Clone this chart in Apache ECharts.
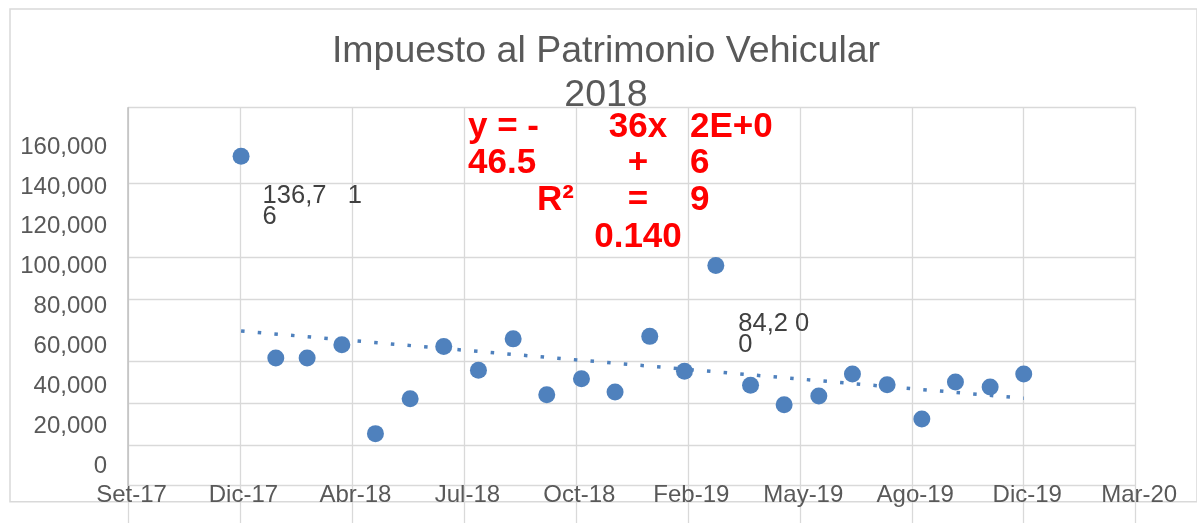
<!DOCTYPE html>
<html><head><meta charset="utf-8">
<script src="https://cdn.jsdelivr.net/npm/echarts@6/dist/echarts.min.js"></script>
<style>html,body{margin:0;padding:0;background:#fff;}#c{width:1197px;height:523px;}</style>
</head><body><div id="c"></div>
<script>
// ---- data ----
const months = ['2018-01','2018-02','2018-03','2018-04','2018-05','2018-06','2018-07','2018-08','2018-09','2018-10','2018-11','2018-12',
                '2019-01','2019-02','2019-03','2019-04','2019-05','2019-06','2019-07','2019-08','2019-09','2019-10','2019-11','2019-12'];
const values = [136716, 39800, 39800, 46200, 3500, 20300, 45300, 33900, 49000, 22200, 29900, 23500,
                50200, 33400, 84200, 26700, 17400, 21600, 32100, 27000, 10500, 28300, 25900, 32100];
const xTickLabels = ['Set-17','Dic-17','Abr-18','Jul-18','Oct-18','Feb-19','May-19','Ago-19','Dic-19','Mar-20'];
const xMin = 43000, xMax = 43900, xStep = 100;            // Excel date serials
const yTickValues = [0, 20000, 40000, 60000, 80000, 100000, 120000, 140000, 160000];
const gridLineValues = [160000, 123800, 88200, 68200, 38400, 18200, -2000, -21500];
const labelledMonths = ['2018-01', '2019-03'];
const titleText = 'Impuesto al Patrimonio Vehicular\n2018';

// ---- helpers ----
function toSerial(ym) {
  const p = ym.split('-').map(Number);
  return Math.round((Date.UTC(p[0], p[1] - 1, 1) - Date.UTC(1899, 11, 30)) / 86400000);
}
function fmt(v) { return String(Math.round(v)).replace(/\B(?=(\d{3})+(?!\d))/g, ','); }

const xs = months.map(toSerial);
// least squares trend (as Excel does)
const n = xs.length;
let sx = 0, sy = 0, sxx = 0, sxy = 0;
for (let i = 0; i < n; i++) { sx += xs[i]; sy += values[i]; sxx += xs[i] * xs[i]; sxy += xs[i] * values[i]; }
const slope = (n * sxy - sx * sy) / (n * sxx - sx * sx);
const icpt = (sy - slope * sx) / n;
const trendData = [[xs[0], icpt + slope * xs[0]], [xs[n - 1], icpt + slope * xs[n - 1]]];

const labelCfg = {
  '2018-01': { position: [30, 38], gap: '   ' },
  '2019-03': { position: [31, 56], gap: ' ' }
};

const scatterData = months.map((m, i) => {
  const item = { value: [xs[i], values[i]] };
  if (labelledMonths.indexOf(m) >= 0) {
    const c = labelCfg[m];
    item.label = {
      show: true, position: c.position, align: 'left', verticalAlign: 'top',
      fontSize: 25.5, lineHeight: 21, color: '#404040',
      formatter: function (p) {
        const s = fmt(p.value[1]);
        return s.slice(0, -2) + c.gap + s.slice(-2, -1) + '\n' + s.slice(-1);
      }
    };
  }
  return item;
});

const gridColor = '#d9d9d9';
const eqFont = 'bold 35px "Liberation Sans", Arial, sans-serif';

const option = {
  backgroundColor: '#fff',
  animation: false,
  textStyle: { fontFamily: '"Liberation Sans", Arial, sans-serif' },
  title: {
    text: titleText, left: 606, top: 30, textAlign: 'center', padding: 0, z: -1,
    textStyle: { fontSize: 37.5, fontWeight: 'normal', color: '#595959', lineHeight: 44 }
  },
  grid: [
    { left: 128, right: 61.3, top: 107.7, bottom: 37.3, show: true, backgroundColor: '#fff', borderWidth: 0 },
    { left: 115, right: 61.3, top: 147, bottom: 57, show: false },
    { left: 128, right: 61.3, top: 485.7, bottom: 0, show: false },
    { left: 10, top: 9, right: -5, bottom: 21.3, show: true, backgroundColor: 'transparent', borderColor: gridColor, borderWidth: 1.5 }
  ],
  xAxis: [
    { gridIndex: 0, type: 'value', min: xMin, max: xMax, interval: xStep,
      axisLine: { show: false }, axisTick: { show: false },
      splitLine: { show: true, lineStyle: { color: gridColor, width: 1.3 } },
      axisLabel: { fontSize: 24, color: '#595959', margin: -2, padding: [0, 0, 0, 7],
        formatter: v => xTickLabels[Math.round((v - xMin) / xStep)] || '' } },
    { gridIndex: 1, type: 'value', show: false, min: xMin, max: xMax },
    { gridIndex: 2, type: 'value', min: xMin, max: xMax, interval: xStep,
      axisLine: { show: false }, axisTick: { show: false }, axisLabel: { show: false },
      splitLine: { show: true, lineStyle: { color: gridColor, width: 1.3 } } },
    { gridIndex: 3, type: 'value', show: false }
  ],
  yAxis: [
    { gridIndex: 0, type: 'value', min: -21500, max: 160000,
      axisLine: { show: true, lineStyle: { color: '#bfbfbf', width: 1.5 } },
      axisTick: { show: false, customValues: gridLineValues },
      axisLabel: { show: false },
      splitLine: { show: true, lineStyle: { color: gridColor, width: 1.3 } } },
    { gridIndex: 1, type: 'value', min: 0, max: 160000, interval: 20000,
      axisLine: { show: false }, axisTick: { show: false }, splitLine: { show: false },
      axisLabel: { fontSize: 24, color: '#595959', margin: 8, customValues: yTickValues, formatter: v => fmt(v) } },
    { gridIndex: 2, type: 'value', show: false },
    { gridIndex: 3, type: 'value', show: false }
  ],
  series: [
    { type: 'line', xAxisIndex: 0, yAxisIndex: 0, data: trendData, showSymbol: false, silent: true, z: 2,
      lineStyle: { color: '#4F81BD', width: 3.5, type: [3.5, 13.2], cap: 'butt' } },
    { type: 'scatter', xAxisIndex: 0, yAxisIndex: 0, data: scatterData, symbolSize: 17, z: 3,
      itemStyle: { color: '#4F81BD', opacity: 1 } }
  ],
  graphic: [
    { type: 'text', x: 468, y: 108.5, z: 10, style: { text: 'y = -\n46.5', font: eqFont, fill: '#ff0000', align: 'left', verticalAlign: 'top', lineHeight: 36.7 } },
    { type: 'text', x: 574, y: 182.4, z: 10, style: { text: 'R²', font: eqFont, fill: '#ff0000', align: 'right', verticalAlign: 'top', lineHeight: 36.7 } },
    { type: 'text', x: 638, y: 108.5, z: 10, style: { text: '36x\n+\n=\n0.140', font: eqFont, fill: '#ff0000', align: 'center', verticalAlign: 'top', lineHeight: 36.7 } },
    { type: 'text', x: 690, y: 108.5, z: 10, style: { text: '2E+0\n6\n9', font: eqFont, fill: '#ff0000', align: 'left', verticalAlign: 'top', lineHeight: 36.7 } }
  ]
};

const chart = echarts.init(document.getElementById('c'), null, { renderer: 'canvas' });
chart.setOption(option);
</script>
</body></html>
